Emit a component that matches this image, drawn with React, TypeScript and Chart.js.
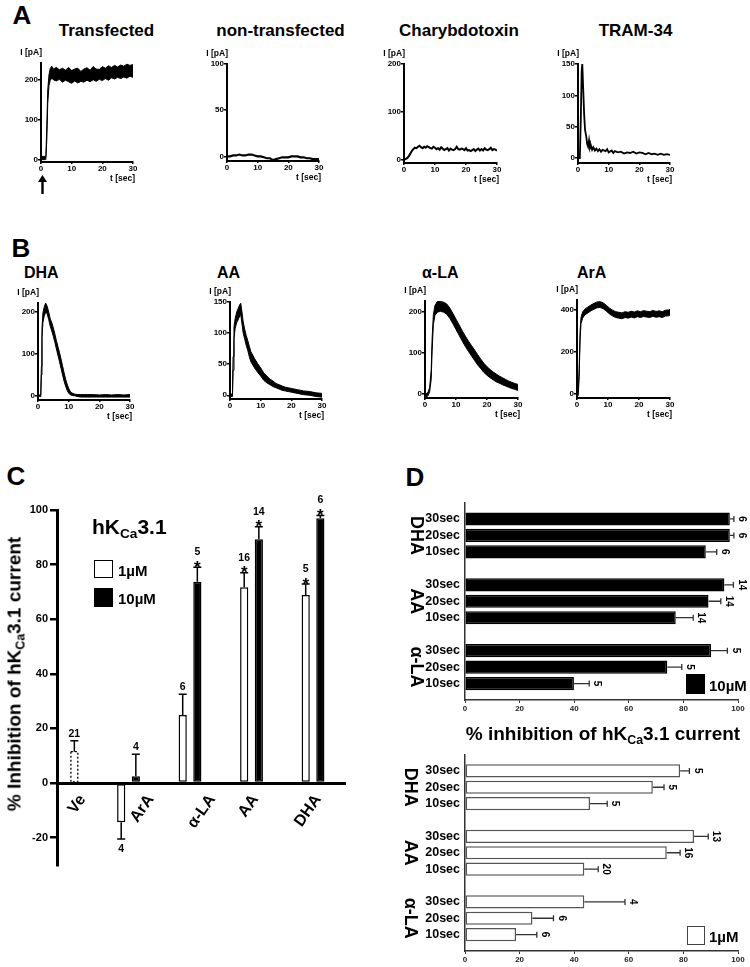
import React, { useEffect, useRef } from 'react';
import { Chart, registerables } from 'chart.js';

Chart.register(...registerables);

const FONT = "'Liberation Sans', Arial, Helvetica, sans-serif";
Chart.defaults.font.family = FONT;

// ================= Panel A : current traces =================
const TRACE_XTICKS = [0, 10, 20, 30];

const TRANSFECTED_T = [0, 1.4, 1.6, 1.9, 2.2, 2.6, 3.0, 3.5, 4, 5, 6, 7, 8, 9, 10, 11, 12, 13, 14, 15, 16, 17, 18, 19, 20, 21, 22, 23, 24, 25, 26, 27, 28, 29, 30];
const TRANSFECTED_LO = [0, 0, 4, 50, 140, 185, 198, 204, 200, 197, 201, 194, 199, 195, 191, 197, 192, 196, 194, 199, 195, 200, 196, 201, 198, 203, 199, 205, 202, 206, 203, 207, 204, 209, 206];
const TRANSFECTED_HI = [8, 8, 12, 85, 175, 212, 228, 234, 227, 231, 225, 229, 224, 231, 223, 227, 229, 221, 227, 230, 224, 233, 227, 226, 233, 229, 235, 231, 236, 232, 237, 234, 239, 236, 238];

const NONTRANS_T = [0, 1, 2, 3, 4, 5, 6, 7, 8, 9, 10, 11, 12, 13, 14, 15, 16, 17, 18, 19, 20, 21, 22, 23, 24, 25, 26, 27, 28, 29, 30];
const NONTRANS_I = [0, 0, 1, 1, 2, 1, 1, 2, 2, 1, 0, 0, -1, -2, -2, -4, -3, -2, -1, -1, -1, 0, 0, 0, -1, -1, -2, -2, -3, -3, -3];

const CTX_T = [0, 0.5, 1, 1.5, 2, 2.5, 3, 3.5, 4, 4.5, 5, 5.5, 6, 6.5, 7, 7.5, 8, 8.5, 9, 9.5, 10, 10.5, 11, 11.5, 12, 12.5, 13, 13.5, 14, 14.5, 15, 15.5, 16, 16.5, 17, 17.5, 18, 18.5, 19, 19.5, 20, 20.5, 21, 21.5, 22, 22.5, 23, 23.5, 24, 24.5, 25, 25.5, 26, 26.5, 27, 27.5, 28, 28.5, 29, 29.5, 30];
const CTX_I = [0, 1, 3, 7, 12, 18, 22, 25, 24, 27, 29, 26, 24, 27, 25, 28, 26, 24, 23, 27, 25, 22, 24, 21, 26, 23, 20, 22, 24, 19, 23, 21, 20, 22, 27, 22, 21, 23, 22, 20, 24, 19, 20, 18, 20, 22, 18, 21, 23, 19, 22, 19, 24, 21, 20, 22, 25, 20, 22, 21, 19];

const TRAM_T = [0, 0.6, 0.9, 1.2, 1.4, 1.7, 2.0, 2.3, 2.7, 3.0, 3.3, 3.6, 3.9, 4.2, 4.6, 5, 5.5, 6, 6.5, 7, 7.5, 8, 9, 9.5, 10, 11, 11.5, 12, 13, 14, 15, 16, 17, 18, 19, 20, 21, 22, 23, 24, 25, 26, 27, 28, 29, 30];
const TRAM_I = [0, 0, 60, 140, 150, 110, 70, 45, 34, 22, 18, 28, 16, 20, 13, 17, 12, 15, 11, 14, 10, 13, 11, 14, 9, 12, 8, 11, 9, 10, 7, 9, 8, 10, 7, 9, 8, 6, 8, 6, 7, 5, 7, 5, 6, 5];

// ================= Panel B : current traces =================
const DHA_T = [0, 0.9, 1.1, 1.3, 1.6, 2.0, 2.5, 3.0, 3.5, 4, 4.5, 5, 5.5, 6, 6.5, 7, 7.5, 8, 8.5, 9, 9.5, 10, 10.5, 11, 12, 13, 14, 16, 18, 20, 22, 24, 26, 28, 30];
const DHA_LO = [0, -2, 50, 140, 175, 190, 200, 196, 182, 166, 155, 142, 128, 112, 97, 82, 66, 50, 35, 23, 13, 6, 3, 1, 0, -2, -3, -3, -3, -3, -3, -3, -3, -3, -3];
const DHA_HI = [2, 2, 70, 162, 198, 212, 222, 214, 200, 184, 175, 162, 148, 132, 118, 104, 88, 72, 55, 40, 28, 18, 11, 7, 4, 3, 3, 3, 3, 2, 3, 2, 3, 2, 3];

const AA_T = [0, 0.8, 1.0, 1.3, 1.7, 2.2, 2.7, 3.2, 3.5, 3.9, 4.3, 4.8, 5.3, 5.8, 6.3, 6.8, 7.5, 8, 9, 10, 11, 12, 13, 14, 15, 16, 17, 18, 19, 20, 22, 24, 26, 28, 30];
const AA_LO = [-2, -2, 40, 92, 108, 117, 122, 128, 130, 115, 100, 90, 80, 72, 62, 54, 48, 44, 37, 31, 24, 20, 17, 14, 12, 10, 8, 7, 6, 5, 3, 1, 0, -2, -3];
const AA_HI = [2, 2, 62, 110, 124, 134, 140, 146, 148, 134, 118, 106, 96, 88, 79, 70, 64, 59, 51, 44, 36, 31, 26, 23, 19, 17, 15, 13, 12, 11, 9, 7, 6, 4, 3];

const ALA_T = [0, 0.5, 1.0, 1.5, 2.0, 2.3, 2.7, 3.2, 4, 5, 6, 7, 8, 9, 10, 11, 12, 13, 14, 15, 16, 17, 18, 19, 20, 21, 22, 23, 24, 25, 26, 27, 28, 29, 30];
const ALA_LO = [-7, -8, -4, 5, 35, 105, 168, 190, 198, 200, 198, 193, 183, 170, 156, 142, 128, 115, 103, 92, 81, 70, 61, 52, 45, 39, 34, 29, 26, 22, 19, 16, 13, 11, 8];
const ALA_HI = [2, 1, 4, 16, 58, 135, 192, 214, 224, 224, 222, 218, 208, 195, 181, 167, 153, 140, 128, 117, 106, 95, 84, 74, 66, 59, 53, 48, 43, 39, 35, 31, 28, 25, 23];

const ARA_T = [0, 0.4, 0.7, 1.0, 1.3, 1.8, 2.5, 3.5, 4.5, 5.5, 6.5, 7.5, 8.5, 9.5, 10.5, 11.5, 12.5, 13.5, 14.5, 15.5, 16.5, 17.5, 18.5, 19.5, 20.5, 21.5, 22.5, 23.5, 24.5, 25.5, 26.5, 27.5, 28.5, 29.5, 30];
const ARA_LO = [-10, -10, 80, 260, 335, 360, 376, 386, 396, 404, 411, 412, 406, 394, 381, 371, 364, 361, 358, 364, 361, 366, 362, 368, 364, 369, 366, 364, 370, 365, 368, 364, 371, 372, 376];
const ARA_HI = [10, 10, 120, 300, 365, 390, 404, 414, 424, 432, 439, 440, 434, 422, 409, 399, 392, 389, 386, 392, 389, 394, 390, 396, 392, 397, 394, 392, 398, 393, 396, 392, 399, 400, 404];

// ================= Panel C : grouped bars =================
const C_GROUPS = ['Ve', 'ArA', '\u03B1-LA', 'AA', 'DHA'];
const C_1UM = [null, -14.3, 24.9, 71.7, 68.9];
const C_1UM_ERR = [0, 6.2, 7.6, 5.3, 4.0];
const C_1UM_N = ['', '4', '6', '16', '5'];
const C_1UM_SIG = [false, false, false, true, true];
const C_10UM = [11.5, 2.5, 73.7, 89.3, 97.0];
const C_10UM_ERR = [4.0, 8.1, 5.3, 4.6, 1.0];
const C_10UM_N = ['21', '4', '5', '14', '6'];
const C_10UM_SIG = [false, false, true, true, true];
const C_YTICKS = [-20, 0, 20, 40, 60, 80, 100];

// ================= Panel D : horizontal bars =================
const D_GROUPS = ['DHA', 'AA', '\u03B1-LA'];
const D_ROWS = ['30sec', '20sec', '10sec'];
const D10_VAL = [97.0, 97.0, 88.2, 95.0, 89.2, 77.2, 90.1, 74.1, 39.9];
const D10_ERR = [1.5, 1.5, 4.0, 3.3, 4.5, 6.4, 6.0, 5.3, 5.6];
const D10_N = ['6', '6', '6', '14', '14', '14', '5', '5', '5'];
const D1_VAL = [78.8, 68.8, 45.8, 83.9, 73.9, 43.7, 43.7, 24.7, 18.7];
const D1_ERR = [3.4, 4.1, 6.3, 5.2, 4.9, 5.1, 14.9, 7.7, 7.6];
const D1_N = ['5', '5', '5', '13', '16', '20', '4', '6', '6'];
const D_XTICKS = [0, 20, 40, 60, 80, 100];

// ================= layout of trace panels =================
const TRACES: any[] = [
  { x0: 40.7, x1: 132.7, yTop: 63.3, yBot: 161.7, ymin: -6, ymax: 242, yticks: [0, 100, 200], t: TRANSFECTED_T, lo: TRANSFECTED_LO, hi: TRANSFECTED_HI },
  { x0: 227.3, x1: 319.3, yTop: 64.3, yBot: 161, ymin: -5, ymax: 100, yticks: [0, 50, 100], t: NONTRANS_T, y: NONTRANS_I, lw: 2.2 },
  { x0: 404.3, x1: 496.7, yTop: 64.3, yBot: 163.3, ymin: -7, ymax: 200, yticks: [0, 100, 200], t: CTX_T, y: CTX_I, lw: 2 },
  { x0: 578.3, x1: 670, yTop: 64.3, yBot: 163.3, ymin: -8, ymax: 150, yticks: [0, 50, 100, 150], t: TRAM_T, y: TRAM_I, lw: 1.8 },
  { x0: 38, x1: 130, yTop: 303.3, yBot: 400, ymin: -10, ymax: 222, yticks: [0, 100, 200], t: DHA_T, lo: DHA_LO, hi: DHA_HI },
  { x0: 229.5, x1: 322, yTop: 301.7, yBot: 399.3, ymin: -6, ymax: 150, yticks: [0, 50, 100, 150], t: AA_T, lo: AA_LO, hi: AA_HI },
  { x0: 425, x1: 517.5, yTop: 300.7, yBot: 398.3, ymin: -10, ymax: 225, yticks: [0, 100, 200], t: ALA_T, lo: ALA_LO, hi: ALA_HI },
  { x0: 577, x1: 669.5, yTop: 300, yBot: 397.7, ymin: -22, ymax: 448, yticks: [0, 200, 400], t: ARA_T, lo: ARA_LO, hi: ARA_HI },
];

const TPL = 34, TPR = 12, TPT = 8, TPB = 14;

function Txt({ x, y, size, children, align = 'center', rotate = 0, color = '#000', weight = 700 }: any) {
  const tx = align === 'left' ? '0%' : align === 'right' ? '-100%' : '-50%';
  return (
    <div
      style={{
        position: 'absolute', left: x, top: y,
        transform: `translate(${tx}, -50%)` + (rotate ? ` rotate(${rotate}deg)` : ''),
        fontFamily: FONT, fontWeight: weight, fontSize: size, lineHeight: 1,
        whiteSpace: 'nowrap', color,
      }}
    >
      {children}
    </div>
  );
}

function Sub({ children }: any) {
  return <span style={{ fontSize: '0.65em', position: 'relative', top: '0.32em' }}>{children}</span>;
}

function TraceChart({ s }: any) {
  const ref = useRef<HTMLCanvasElement>(null);
  const x0 = Math.round(s.x0), x1 = Math.round(s.x1), yT = Math.round(s.yTop), yB = Math.round(s.yBot);
  const left = x0 - TPL, top = yT - TPT, w = x1 - x0 + TPL + TPR, h = yB - yT + TPT + TPB;
  useEffect(() => {
    const datasets = s.lo
      ? [
          { data: s.t.map((t: number, i: number) => ({ x: t, y: s.lo[i] })), borderColor: '#000', borderWidth: 1, pointRadius: 0, fill: false },
          { data: s.t.map((t: number, i: number) => ({ x: t, y: s.hi[i] })), borderColor: '#000', borderWidth: 1, pointRadius: 0, fill: '-1', backgroundColor: '#000' },
        ]
      : [
          { data: s.t.map((t: number, i: number) => ({ x: t, y: s.y[i] })), borderColor: '#000', borderWidth: s.lw || 1.6, pointRadius: 0, fill: false },
        ];
    const tickFont = { family: FONT, size: 8, weight: 'bold' as const };
    const chart = new Chart(ref.current as HTMLCanvasElement, {
      type: 'line',
      data: { datasets } as any,
      options: {
        animation: false, responsive: false, devicePixelRatio: 1,
        layout: { padding: { left: 0, top: TPT, right: TPR, bottom: 0 } },
        plugins: { legend: { display: false }, tooltip: { enabled: false } },
        elements: { line: { tension: 0 } },
        scales: {
          x: {
            type: 'linear', min: 0, max: 30,
            afterBuildTicks: (sc: any) => { sc.ticks = TRACE_XTICKS.map((v) => ({ value: v })); },
            afterFit: (sc: any) => { sc.height = TPB; },
            ticks: { font: tickFont, color: '#000', padding: 0, maxRotation: 0 },
            grid: { drawOnChartArea: false, drawTicks: true, tickLength: 2, color: '#000', lineWidth: 1.5 },
            border: { color: '#000', width: 2 },
          },
          y: {
            type: 'linear', min: s.ymin, max: s.ymax,
            afterBuildTicks: (sc: any) => { sc.ticks = s.yticks.map((v: number) => ({ value: v })); },
            afterFit: (sc: any) => { sc.width = TPL; },
            ticks: { font: tickFont, color: '#000', padding: 0 },
            grid: { drawOnChartArea: false, drawTicks: true, tickLength: 3, color: '#000', lineWidth: 1.5 },
            border: { color: '#000', width: 2 },
          },
        },
      } as any,
    });
    return () => chart.destroy();
  }, []);
  return (
    <>
      <canvas ref={ref} width={w} height={h} style={{ position: 'absolute', left, top, width: w, height: h }} />
      <Txt x={x0 + 1} y={yT - 11} size={8.5} align="right">I [pA]</Txt>
      <Txt x={x1 + 2} y={yB + 16} size={8.5} align="right">t [sec]</Txt>
    </>
  );
}

// ---------- Panel C ----------
const C_LEFT = 0, C_TOP = 490, C_W = 360, C_H = 390;
const C_AXIS_W = 57, C_PAD_T = 20, C_PAD_R = 15, C_PAD_B = 15;
const C_LABEL_SHIFTS = [0.25, 0.36, 0.36, 0.06, 0.08];

const cPlugin = {
  id: 'cAnnot',
  afterDatasetsDraw(chart: any) {
    const ctx = chart.ctx;
    const ys = chart.scales.y;
    // vehicle bar: dotted outline
    const m1 = chart.getDatasetMeta(1);
    const ve = m1.data[0];
    if (ve) {
      const p = ve.getProps(['x', 'y', 'base', 'width'], true);
      ctx.save();
      ctx.setLineDash([2, 2]);
      ctx.lineWidth = 1.3;
      ctx.strokeStyle = '#000';
      ctx.strokeRect(p.x - p.width / 2 + 0.65, p.y, p.width - 1.3, p.base - p.y);
      ctx.restore();
    }
    const sets: any[] = [
      [C_1UM, C_1UM_ERR, C_1UM_N, C_1UM_SIG],
      [C_10UM, C_10UM_ERR, C_10UM_N, C_10UM_SIG],
    ];
    sets.forEach(([vals, errs, ns, sig], di) => {
      const meta = chart.getDatasetMeta(di);
      vals.forEach((v: number | null, i: number) => {
        if (v === null) return;
        const el = meta.data[i];
        const x = el.x;
        const up = v >= 0;
        const yv = ys.getPixelForValue(v);
        const ye = ys.getPixelForValue(up ? v + errs[i] : v - errs[i]);
        ctx.save();
        ctx.strokeStyle = '#000';
        ctx.lineWidth = 1.5;
        ctx.beginPath();
        ctx.moveTo(x, yv);
        ctx.lineTo(x, ye);
        ctx.moveTo(x - 4, ye);
        ctx.lineTo(x + 4, ye);
        ctx.stroke();
        ctx.fillStyle = '#000';
        ctx.textAlign = 'center';
        if (up) {
          if (sig[i]) {
            ctx.font = `bold 17px ${FONT}`;
            ctx.textBaseline = 'alphabetic';
            ctx.fillText('*', x, ye + 5.5);
            ctx.font = `bold 10.5px ${FONT}`;
            ctx.textBaseline = 'middle';
            ctx.fillText(ns[i], x, ye - 15);
          } else {
            ctx.font = `bold 10.5px ${FONT}`;
            ctx.textBaseline = 'middle';
            ctx.fillText(ns[i], x, ye - 7);
          }
        } else {
          ctx.font = `bold 10.5px ${FONT}`;
          ctx.textBaseline = 'middle';
          ctx.fillText(ns[i], x, ye + 10);
        }
        ctx.restore();
      });
    });
  },
};

function PanelC() {
  const ref = useRef<HTMLCanvasElement>(null);
  useEffect(() => {
    const chart = new Chart(ref.current as HTMLCanvasElement, {
      type: 'bar',
      data: {
        datasets: [
          {
            label: '1\u00B5M',
            data: C_1UM.map((v, i) => ({ x: i, y: v })),
            backgroundColor: '#fff', borderColor: '#000', borderWidth: 1.5, borderSkipped: false,
          },
          {
            label: '10\u00B5M',
            data: C_10UM.map((v, i) => ({ x: i, y: v })),
            backgroundColor: C_10UM.map((_, i) => (i === 0 ? '#fff' : '#000')),
            borderColor: '#000',
            borderWidth: C_10UM.map((_, i) => (i === 0 ? 0 : 1.5)),
            borderSkipped: false,
          },
        ],
      } as any,
      options: {
        animation: false, responsive: false, devicePixelRatio: 1,
        layout: { padding: { left: 0, top: C_PAD_T, right: C_PAD_R, bottom: C_PAD_B } },
        plugins: { legend: { display: false }, tooltip: { enabled: false } },
        datasets: { bar: { categoryPercentage: 0.68, barPercentage: 0.56 } },
        scales: {
          x: {
            type: 'linear', offset: false, position: { y: 0 }, min: -0.163, max: 4.52,
            afterBuildTicks: (sc: any) => { sc.ticks = C_GROUPS.map((_, i) => ({ value: i + C_LABEL_SHIFTS[i] })); },
            ticks: {
              callback: (_v: any, i: number) => C_GROUPS[i],
              autoSkip: false, minRotation: 55, maxRotation: 55,
              font: { family: FONT, size: 16, weight: 'bold' }, color: '#000', padding: 8,
            },
            grid: { display: false, drawTicks: false },
            border: { display: true, color: '#000', width: 3 },
          },
          y: {
            type: 'linear', min: -30, max: 100,
            afterBuildTicks: (sc: any) => { sc.ticks = C_YTICKS.map((v) => ({ value: v })); },
            afterFit: (sc: any) => { sc.width = C_AXIS_W; },
            ticks: { font: { family: FONT, size: 11, weight: 'bold' }, color: '#000', padding: 2 },
            grid: { drawOnChartArea: false, drawTicks: true, tickLength: 7, color: '#000', lineWidth: 2.5 },
            border: { color: '#000', width: 3 },
          },
        },
      } as any,
      plugins: [cPlugin],
    });
    return () => chart.destroy();
  }, []);
  return <canvas ref={ref} width={C_W} height={C_H} style={{ position: 'absolute', left: C_LEFT, top: C_TOP, width: C_W, height: C_H }} />;
}

// ---------- Panel D ----------
function buildRows(values: number[]) {
  const labels: string[] = [''];
  const data: (number | null)[] = [null];
  D_GROUPS.forEach((_g, gi) => {
    D_ROWS.forEach((r, ri) => {
      labels.push(r);
      data.push(values[gi * D_ROWS.length + ri]);
    });
    labels.push('');
    data.push(null);
  });
  return { labels, data };
}

const D_LEFT = 395, D_W = 355, D_AXIS_W = 70, D_PAD_T = 8, D_PAD_R = 12, D_XAXIS_H = 20;

function makeDPlugin(values: number[], errs: number[], ns: string[], groupX: number) {
  return {
    id: 'dAnnot',
    afterDatasetsDraw(chart: any) {
      const ctx = chart.ctx;
      const xs = chart.scales.x, ys = chart.scales.y;
      let k = 0;
      D_GROUPS.forEach((g, gi) => {
        D_ROWS.forEach((_r, ri) => {
          const idx = 1 + gi * (D_ROWS.length + 1) + ri;
          const y = ys.getPixelForValue(idx);
          const xv = xs.getPixelForValue(values[k]);
          const xe = xs.getPixelForValue(values[k] + errs[k]);
          ctx.save();
          ctx.strokeStyle = '#333';
          ctx.lineWidth = 1.3;
          ctx.beginPath();
          ctx.moveTo(xv, y);
          ctx.lineTo(xe, y);
          ctx.moveTo(xe, y - 3);
          ctx.lineTo(xe, y + 3);
          ctx.stroke();
          ctx.translate(xe + 8, y);
          ctx.rotate(Math.PI / 2);
          ctx.fillStyle = '#000';
          ctx.font = `bold 10px ${FONT}`;
          ctx.textAlign = 'center';
          ctx.textBaseline = 'middle';
          ctx.fillText(ns[k], 0, 0);
          ctx.restore();
          k++;
        });
        const yc = ys.getPixelForValue(1 + gi * (D_ROWS.length + 1) + 1);
        ctx.save();
        ctx.translate(groupX, yc);
        ctx.rotate(Math.PI / 2);
        ctx.fillStyle = '#000';
        ctx.font = `bold 18px ${FONT}`;
        ctx.textAlign = 'center';
        ctx.textBaseline = 'middle';
        ctx.fillText(g, 0, 0);
        ctx.restore();
      });
    },
  };
}

function PanelD({ top, areaH, values, errs, ns, fill, border, groupX }: any) {
  const ref = useRef<HTMLCanvasElement>(null);
  const h = areaH + D_PAD_T + D_XAXIS_H;
  useEffect(() => {
    const rows = buildRows(values);
    const chart = new Chart(ref.current as HTMLCanvasElement, {
      type: 'bar',
      data: {
        labels: rows.labels,
        datasets: [{ data: rows.data, backgroundColor: fill, borderColor: border, borderWidth: 1.5, borderSkipped: false }],
      } as any,
      options: {
        indexAxis: 'y',
        animation: false, responsive: false, devicePixelRatio: 1,
        layout: { padding: { left: 0, top: D_PAD_T, right: D_PAD_R, bottom: 0 } },
        plugins: { legend: { display: false }, tooltip: { enabled: false } },
        datasets: { bar: { categoryPercentage: 1, barPercentage: 0.8 } },
        scales: {
          y: {
            type: 'category', offset: false,
            afterFit: (sc: any) => { sc.width = D_AXIS_W; },
            ticks: { autoSkip: false, font: { family: FONT, size: 12.5, weight: 'bold' }, color: '#000', padding: 5 },
            grid: { display: false, drawTicks: false },
            border: { display: true, color: '#333', width: 1.5 },
          },
          x: {
            type: 'linear', min: 0, max: 100,
            afterBuildTicks: (sc: any) => { sc.ticks = D_XTICKS.map((v) => ({ value: v })); },
            afterFit: (sc: any) => { sc.height = D_XAXIS_H; },
            ticks: { font: { family: FONT, size: 8, weight: 'bold' }, color: '#222', padding: 1, maxRotation: 0 },
            grid: { drawOnChartArea: false, drawTicks: true, tickLength: 3, color: '#333', lineWidth: 1 },
            border: { display: true, color: '#333', width: 1.5 },
          },
        },
      } as any,
      plugins: [makeDPlugin(values, errs, ns, groupX)],
    });
    return () => chart.destroy();
  }, []);
  return <canvas ref={ref} width={D_W} height={h} style={{ position: 'absolute', left: D_LEFT, top, width: D_W, height: h }} />;
}

export default function App() {
  return (
    <div style={{ position: 'relative', width: 750, height: 967, overflow: 'hidden', background: '#fff' }}>
      <style>{'body{margin:0;background:#fff;}'}</style>

      {/* panel letters */}
      <Txt x={22} y={15} size={26}>A</Txt>
      <Txt x={21} y={248} size={26}>B</Txt>
      <Txt x={16} y={476} size={26}>C</Txt>
      <Txt x={415} y={477} size={26}>D</Txt>

      {/* A titles */}
      <Txt x={106.5} y={30} size={17}>Transfected</Txt>
      <Txt x={280.5} y={30} size={17}>non-transfected</Txt>
      <Txt x={459} y={30} size={17}>Charybdotoxin</Txt>
      <Txt x={635.5} y={30} size={17}>TRAM-34</Txt>

      {/* B titles */}
      <Txt x={24} y={273} size={16} align="left">DHA</Txt>
      <Txt x={217} y={273} size={16} align="left">AA</Txt>
      <Txt x={422} y={273} size={16} align="left">{'\u03B1-LA'}</Txt>
      <Txt x={577} y={273} size={16} align="left">ArA</Txt>

      {TRACES.map((s, i) => <TraceChart key={i} s={s} />)}

      {/* application arrow */}
      <svg style={{ position: 'absolute', left: 37, top: 175 }} width={11} height={19}>
        <polygon points="5.5,0 1,7 10,7" fill="#000" />
        <rect x={4.3} y={6} width={2.4} height={13} fill="#000" />
      </svg>

      {/* Panel C */}
      <PanelC />
      <Txt x={14} y={674} size={19} rotate={-90}>% Inhibition of hK<Sub>Ca</Sub>3.1 current</Txt>
      <Txt x={92} y={526} size={21} align="left">hK<Sub>Ca</Sub>3.1</Txt>
      <div style={{ position: 'absolute', left: 94, top: 560, width: 19, height: 18, border: '1.5px solid #000', boxSizing: 'border-box', background: '#fff' }} />
      <div style={{ position: 'absolute', left: 94, top: 588, width: 19, height: 19, background: '#000' }} />
      <Txt x={118} y={570} size={15} align="left">1{'\u00B5'}M</Txt>
      <Txt x={118} y={598} size={15} align="left">10{'\u00B5'}M</Txt>

      {/* Panel D */}
      <PanelD top={490} areaH={202} values={D10_VAL} errs={D10_ERR} ns={D10_N} fill="#000" border="#000" groupX={21} />
      <PanelD top={742} areaH={201} values={D1_VAL} errs={D1_ERR} ns={D1_N} fill="#fff" border="#555" groupX={15} />
      <Txt x={603} y={733} size={19}>% inhibition of hK<Sub>Ca</Sub>3.1 current</Txt>
      <div style={{ position: 'absolute', left: 686, top: 674, width: 19, height: 20, background: '#000' }} />
      <Txt x={709} y={685} size={15} align="left">10{'\u00B5'}M</Txt>
      <div style={{ position: 'absolute', left: 687, top: 926, width: 18, height: 19, border: '1.5px solid #444', boxSizing: 'border-box', background: '#fff' }} />
      <Txt x={709} y={936} size={15} align="left">1{'\u00B5'}M</Txt>
    </div>
  );
}
